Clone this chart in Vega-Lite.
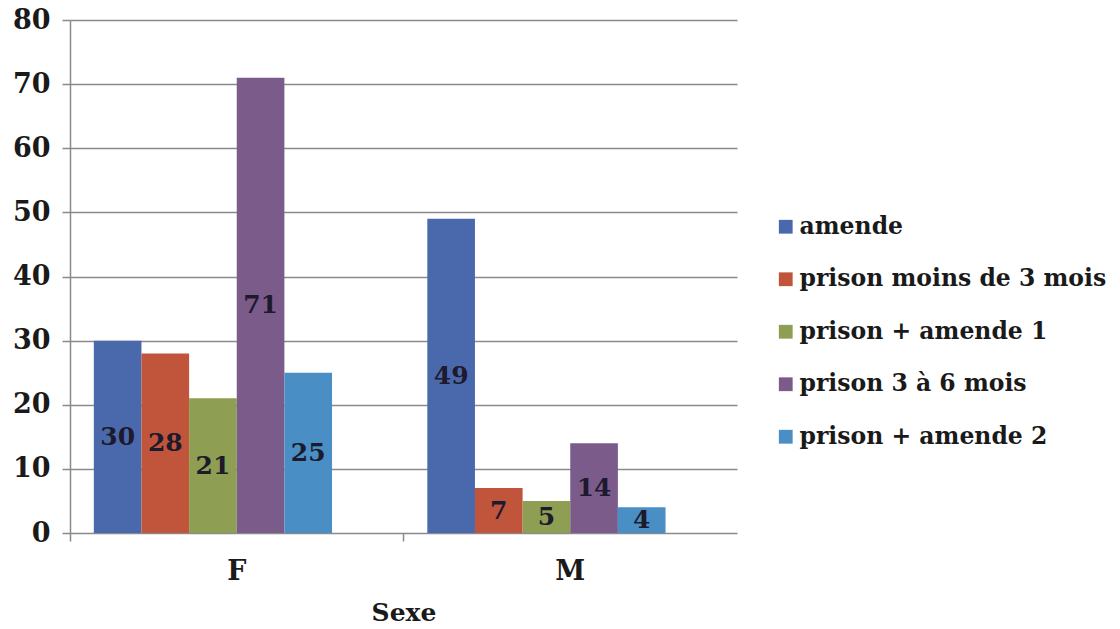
{
  "$schema": "https://vega.github.io/schema/vega-lite/v6.json",
  "width": 667,
  "height": 513,
  "autosize": {"type": "none"},
  "padding": {"left": 70, "top": 20, "right": 383, "bottom": 96},
  "background": "white",
  "config": {
    "view": {"stroke": null},
    "font": "DejaVu Serif"
  },
  "data": {
    "values": [
      {"sexe": "F", "peine": "amende", "n": 30},
      {"sexe": "F", "peine": "prison moins de 3 mois", "n": 28},
      {"sexe": "F", "peine": "prison + amende 1", "n": 21},
      {"sexe": "F", "peine": "prison 3 à 6 mois", "n": 71},
      {"sexe": "F", "peine": "prison + amende 2", "n": 25},
      {"sexe": "M", "peine": "amende", "n": 49},
      {"sexe": "M", "peine": "prison moins de 3 mois", "n": 7},
      {"sexe": "M", "peine": "prison + amende 1", "n": 5},
      {"sexe": "M", "peine": "prison 3 à 6 mois", "n": 14},
      {"sexe": "M", "peine": "prison + amende 2", "n": 4}
    ]
  },
  "transform": [{"calculate": "datum.n / 2", "as": "mid"}],
  "encoding": {
    "x": {
      "field": "sexe",
      "type": "nominal",
      "scale": {"paddingInner": 0, "paddingOuter": 0},
      "axis": {
        "title": "Sexe",
        "labelAngle": 0,
        "labelFont": "DejaVu Serif",
        "labelFontWeight": "bold",
        "labelFontSize": 27,
        "labelColor": "#1a1a1a",
        "labelPadding": 17,
        "bandPosition": 0,
        "ticks": true,
        "tickSize": 8,
        "tickColor": "#8a8a8a",
        "tickWidth": 1.5,
        "domain": false,
        "grid": false,
        "titleFont": "DejaVu Serif",
        "titleFontWeight": "bold",
        "titleFontSize": 25,
        "titleColor": "#1a1a1a",
        "titlePadding": 16
      }
    },
    "xOffset": {
      "field": "peine",
      "type": "nominal",
      "scale": {
        "domain": ["amende", "prison moins de 3 mois", "prison + amende 1", "prison 3 à 6 mois", "prison + amende 2", ""],
        "paddingInner": 0,
        "paddingOuter": 0.5
      }
    }
  },
  "layer": [
    {
      "mark": {"type": "bar"},
      "encoding": {
        "y": {
          "field": "n",
          "type": "quantitative",
          "scale": {"domain": [0, 80]},
          "axis": {
            "title": null,
            "values": [0, 10, 20, 30, 40, 50, 60, 70, 80],
            "labelFont": "DejaVu Serif",
            "labelFontWeight": "bold",
            "labelFontSize": 27,
            "labelColor": "#1a1a1a",
            "labelPadding": 12,
            "tickSize": 8,
            "tickColor": "#8a8a8a",
            "tickWidth": 1.5,
            "domainColor": "#8a8a8a",
            "domainWidth": 1.5,
            "gridColor": "#8a8a8a",
            "gridWidth": 1.5
          }
        },
        "color": {
          "field": "peine",
          "type": "nominal",
          "scale": {
            "domain": ["amende", "prison moins de 3 mois", "prison + amende 1", "prison 3 à 6 mois", "prison + amende 2"],
            "range": ["#4A69AC", "#C0553C", "#8E9E52", "#7B5B8A", "#4A8EC6"]
          },
          "legend": {
            "title": null,
            "orient": "none",
            "legendX": 704,
            "legendY": 195,
            "symbolType": "square",
            "symbolSize": 190,
            "symbolStrokeWidth": 0,
            "labelFont": "DejaVu Serif",
            "labelFontWeight": "bold",
            "labelFontSize": 23.5,
            "labelColor": "#1a1a1a",
            "labelOffset": 2,
            "rowPadding": 27.5,
            "labelLimit": 400
          }
        }
      }
    },
    {
      "mark": {
        "type": "text",
        "font": "DejaVu Serif",
        "fontWeight": "bold",
        "fontSize": 25,
        "color": "#1c1a2c",
        "baseline": "middle",
        "align": "center"
      },
      "encoding": {
        "y": {"field": "mid", "type": "quantitative"},
        "text": {"field": "n", "type": "quantitative"}
      }
    }
  ]
}
